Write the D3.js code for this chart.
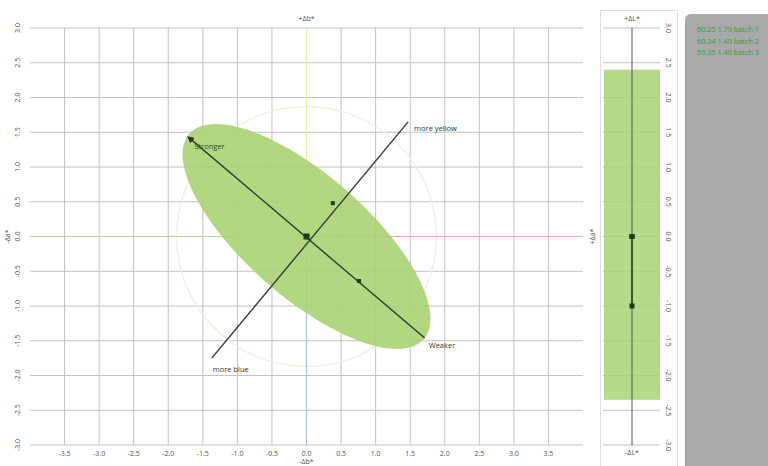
<!DOCTYPE html>
<html>
<head>
<meta charset="utf-8">
<script src="https://cdn.jsdelivr.net/npm/d3@7"></script>
<style>
  body { margin: 0; background: #fff; }
  svg { display: block; font-family: "Open Sans", "Liberation Sans", sans-serif; }
</style>
</head>
<body>
<svg id="chart" width="768" height="466"></svg>
<script>
// ticks
const abTicks = [-3.5, -3.0, -2.5, -2.0, -1.5, -1.0, -0.5, 0.0, 0.5, 1.0, 1.5, 2.0, 2.5, 3.0, 3.5];
const bTicks = [-3.0, -2.5, -2.0, -1.5, -1.0, -0.5, 0.0, 0.5, 1.0, 1.5, 2.0, 2.5, 3.0];

// batches
const batchNames = ["batch 1", "batch 2", "batch 3"];
const batchValues = ["60.25 1.79", "60.34 1.40", "59.35 1.40"];
const batchDa = [0.00, 0.38, 0.76];
const batchDb = [0.00, 0.48, -0.64];
const batchDL = [0.00, 0.00, -1.00];

// tolerance
const ellipseCenter = [0, 0];
const ellipseRadii = [2.25, 0.88];
const ellipseAngle = -41;
const toleranceRadius = 1.88;
const lTolerance = [-2.35, 2.40];

// direction lines
const chromaLine = [[-1.71, 1.43], [1.71, -1.46]];
const hueLine = [[-1.37, -1.75], [1.47, 1.65]];
const chromaLabels = ["Stronger", "Weaker"];
const hueLabels = ["more blue", "more yellow"];

const svg = d3.select("#chart");
const x = d3.scaleLinear().domain([-4, 4]).range([30, 583]);
const y = d3.scaleLinear().domain([-3, 3]).range([445, 28]);

const gridColor = "#c2c2c2";
const textColor = "#555";

// grid
const grid = svg.append("g");
grid.selectAll(".hl").data(bTicks).enter().append("line")
    .attr("x1", x(-4)).attr("x2", x(4))
    .attr("y1", d => y(d)).attr("y2", d => y(d))
    .attr("stroke", gridColor).attr("stroke-width", 1);
grid.selectAll(".vl").data(abTicks).enter().append("line")
    .attr("x1", d => x(d)).attr("x2", d => x(d))
    .attr("y1", y(3)).attr("y2", y(-3))
    .attr("stroke", gridColor).attr("stroke-width", 1);

// tolerance circle
svg.append("circle")
    .attr("cx", x(0)).attr("cy", y(0))
    .attr("r", x(toleranceRadius) - x(0))
    .attr("fill", "none").attr("stroke", "#f2f0e0").attr("stroke-width", 1.5);

// colored axis lines
svg.append("line").attr("x1", x(0)).attr("x2", x(0)).attr("y1", y(0)).attr("y2", y(3))
    .attr("stroke", "#ecec9a").attr("stroke-width", 1.2);
svg.append("line").attr("x1", x(0)).attr("x2", x(0)).attr("y1", y(0)).attr("y2", y(-3))
    .attr("stroke", "#a9bde6").attr("stroke-width", 1.2);
svg.append("line").attr("x1", x(0)).attr("x2", x(4)).attr("y1", y(0)).attr("y2", y(0))
    .attr("stroke", "#f2a8a8").attr("stroke-width", 1.2);
svg.append("line").attr("x1", x(-4)).attr("x2", x(0)).attr("y1", y(0)).attr("y2", y(0))
    .attr("stroke", "#b4dc98").attr("stroke-width", 1.2);

// ellipse outline through the scales
const rad = ellipseAngle * Math.PI / 180;
const ell = d3.range(0, 361, 3).map(t => {
    const a = t * Math.PI / 180;
    const u = ellipseRadii[0] * Math.cos(a), v = ellipseRadii[1] * Math.sin(a);
    return [ellipseCenter[0] + u * Math.cos(rad) - v * Math.sin(rad),
            ellipseCenter[1] + u * Math.sin(rad) + v * Math.cos(rad)];
});
svg.append("path")
    .attr("d", d3.line().x(d => x(d[0])).y(d => y(d[1])).curve(d3.curveLinearClosed)(ell))
    .attr("fill", "#a8d373").attr("fill-opacity", 0.9);

// arrow marker
svg.append("defs").append("marker")
    .attr("id", "arrow").attr("viewBox", "0 0 10 10")
    .attr("refX", 8).attr("refY", 5)
    .attr("markerWidth", 5).attr("markerHeight", 5)
    .attr("orient", "auto-start-reverse")
    .append("path").attr("d", "M0,0 L10,5 L0,10 z").attr("fill", "#333");

const lineGen = d3.line().x(d => x(d[0])).y(d => y(d[1]));
svg.append("path").attr("d", lineGen(chromaLine))
    .attr("stroke", "#2f3a2a").attr("stroke-width", 1.4).attr("fill", "none")
    .attr("marker-start", "url(#arrow)");
svg.append("path").attr("d", lineGen(hueLine))
    .attr("stroke", "#3a3a3a").attr("stroke-width", 1.4).attr("fill", "none");

// line labels
const lbl = (t, px, py, c) => svg.append("text").attr("x", px).attr("y", py)
    .attr("font-size", 7.5).attr("fill", c || "#333").text(t);
lbl(chromaLabels[0], x(chromaLine[0][0]) + 6, y(chromaLine[0][1]) + 12, "#2f4a22");
lbl(chromaLabels[1], x(chromaLine[1][0]) + 4, y(chromaLine[1][1]) + 10);
lbl(hueLabels[0], x(hueLine[0][0]) + 1, y(hueLine[0][1]) + 14);
lbl(hueLabels[1], x(hueLine[1][0]) + 6, y(hueLine[1][1]) + 9);

// batch points
svg.selectAll(".pt").data(batchNames).enter().append("rect")
    .attr("x", (d, i) => x(batchDa[i]) - (i === 0 ? 3 : 2))
    .attr("y", (d, i) => y(batchDb[i]) - (i === 0 ? 3 : 2))
    .attr("width", (d, i) => i === 0 ? 6 : 4)
    .attr("height", (d, i) => i === 0 ? 6 : 4)
    .attr("fill", "#1f3b1a");

// tick labels
svg.selectAll(".yl").data(bTicks).enter().append("text")
    .attr("transform", d => `translate(20,${y(d)}) rotate(-90)`)
    .attr("text-anchor", "middle").attr("font-size", 7).attr("fill", textColor)
    .text(d => d.toFixed(1));
svg.selectAll(".xl").data(abTicks).enter().append("text")
    .attr("x", d => x(d)).attr("y", 456)
    .attr("text-anchor", "middle").attr("font-size", 7).attr("fill", textColor)
    .text(d => d.toFixed(1));

// axis titles
svg.append("text").attr("x", x(0)).attr("y", 21).attr("text-anchor", "middle")
    .attr("font-size", 7).attr("fill", textColor).text("+Δb*");
svg.append("text").attr("x", x(0)).attr("y", 464).attr("text-anchor", "middle")
    .attr("font-size", 7).attr("fill", textColor).text("-Δb*");
svg.append("text").attr("transform", `translate(10,${y(0)}) rotate(-90)`).attr("text-anchor", "middle")
    .attr("font-size", 7).attr("fill", textColor).text("-Δa*");
svg.append("text").attr("transform", `translate(595,${y(0)}) rotate(-90)`).attr("text-anchor", "middle")
    .attr("font-size", 7).attr("fill", textColor).text("+Δa*");

// L* panel
const lx = d3.scaleLinear().domain([-1, 1]).range([604, 660]);
const lp = svg.append("g");
lp.append("rect").attr("x", 600.5).attr("y", 10.5).attr("width", 77).attr("height", 470)
    .attr("fill", "#fff").attr("stroke", "#dedede");
lp.selectAll(".lg").data(bTicks).enter().append("line")
    .attr("x1", lx(-1) - 1).attr("x2", lx(1))
    .attr("y1", d => y(d)).attr("y2", d => y(d))
    .attr("stroke", gridColor);
lp.append("rect")
    .attr("x", lx(-1)).attr("width", lx(1) - lx(-1))
    .attr("y", y(lTolerance[1])).attr("height", y(lTolerance[0]) - y(lTolerance[1]))
    .attr("fill", "#a8d373").attr("fill-opacity", 0.85);
lp.append("line").attr("x1", lx(0)).attr("x2", lx(0)).attr("y1", y(3)).attr("y2", y(-3))
    .attr("stroke", "#555").attr("stroke-width", 1);
lp.append("line").attr("x1", lx(0)).attr("x2", lx(0))
    .attr("y1", y(d3.max(batchDL))).attr("y2", y(d3.min(batchDL)))
    .attr("stroke", "#2a3a22").attr("stroke-width", 1.5);
lp.selectAll(".lpt").data(batchNames).enter().append("rect")
    .attr("x", lx(0) - 2.5).attr("y", (d, i) => y(batchDL[i]) - 2.5)
    .attr("width", 5).attr("height", 5).attr("fill", "#1f3b1a");
lp.selectAll(".ll").data(bTicks).enter().append("text")
    .attr("transform", d => `translate(666,${y(d)}) rotate(90)`)
    .attr("text-anchor", "middle").attr("font-size", 7).attr("fill", textColor)
    .text(d => d.toFixed(1));
lp.append("text").attr("x", lx(0)).attr("y", 21).attr("text-anchor", "middle")
    .attr("font-size", 7).attr("fill", textColor).text("+ΔL*");
lp.append("text").attr("x", lx(0)).attr("y", 455).attr("text-anchor", "middle")
    .attr("font-size", 7).attr("fill", textColor).text("-ΔL*");

// legend panel
svg.append("rect").attr("x", 685).attr("y", 14).attr("width", 100).attr("height", 470)
    .attr("rx", 6).attr("fill", "#a9a9a9");
svg.selectAll(".leg").data(batchNames).enter().append("text")
    .attr("x", 697).attr("y", (d, i) => 32 + i * 11.5)
    .attr("font-size", 7.3).attr("fill", "#3a9a3a")
    .text((d, i) => batchValues[i] + " " + d);
</script>
</body>
</html>
